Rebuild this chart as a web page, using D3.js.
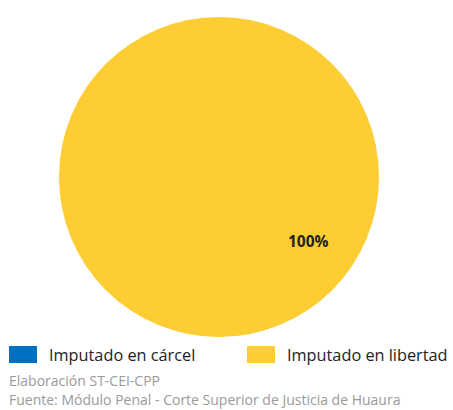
<!DOCTYPE html>
<html><head><meta charset="utf-8">
<script src="https://cdn.jsdelivr.net/npm/d3@7"></script>
<style>body{margin:0;background:#fff}svg{display:block}</style>
</head><body>
<svg id="c" width="453" height="410"></svg>
<script>
const categories = ["Imputado en cárcel", "Imputado en libertad"];
const values = [0, 100];
const colors = ["#0070C0", "#FDCD33"];
const footnotes = ["Elaboración ST-CEI-CPP", "Fuente: Módulo Penal - Corte Superior de Justicia de Huaura"];

const svg = d3.select("#c");
const cx = 219, cy = 177, r = 160;
const g = svg.append("g").attr("transform", `translate(${cx},${cy})`);
const pie = d3.pie().sort(null).value(d => d)(values);
const arc = d3.arc().innerRadius(0).outerRadius(r);
g.selectAll("path").data(pie).join("path")
  .attr("d", arc).attr("fill", (d, i) => colors[i]);

const total = d3.sum(values);
const labelArc = d3.arc().innerRadius(r * 0.69).outerRadius(r * 0.69);
pie.forEach((d, i) => {
  if (d.value <= 0) return;
  const c = labelArc.centroid({startAngle: 2.2, endAngle: 2.2});
  g.append("text").attr("x", c[0]).attr("y", c[1]).attr("dy", "0.35em")
    .attr("text-anchor", "middle")
    .style("font-family", "Open Sans, sans-serif").style("font-size", "15.5px").style("font-weight", "bold")
    .attr("fill", "#222").text(d3.format(".0f")(d.value / total * 100) + "%");
});

const legendX = [9, 247];
categories.forEach((c, i) => {
  svg.append("rect").attr("x", legendX[i]).attr("y", 346).attr("width", 28).attr("height", 17).attr("fill", colors[i]);
  svg.append("text").attr("x", legendX[i] + 40).attr("y", 361)
    .style("font-family", "Open Sans, sans-serif").style("font-size", "16.3px").attr("fill", "#222").text(c);
});
footnotes.forEach((t, i) => {
  svg.append("text").attr("x", 9).attr("y", 386 + i * 19)
    .style("font-family", "Open Sans, sans-serif").style("font-size", "14px").attr("fill", "#9a9a9a").text(t);
});
</script>
</body></html>
